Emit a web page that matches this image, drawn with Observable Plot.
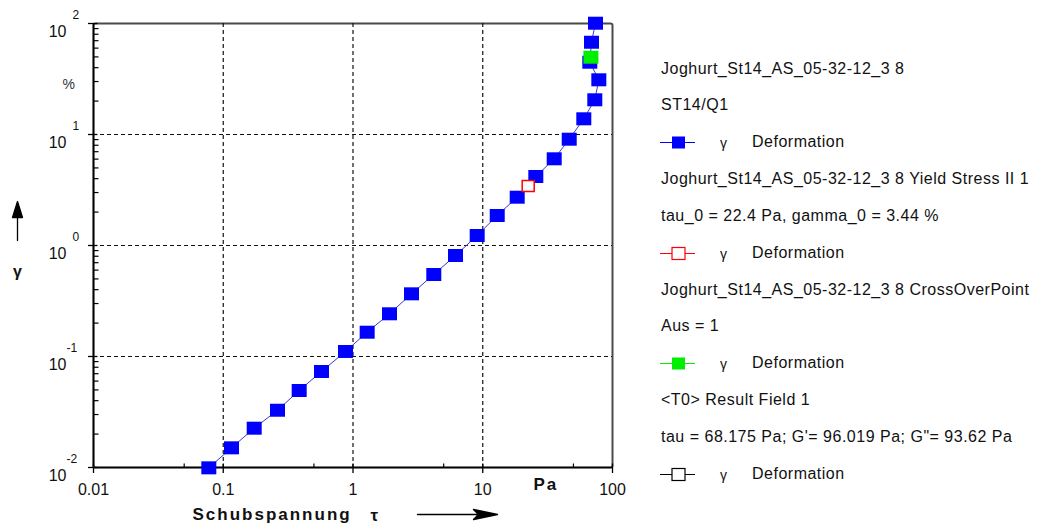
<!DOCTYPE html>
<html><head><meta charset="utf-8">
<script src="https://cdn.jsdelivr.net/npm/d3@7"></script>
<script src="https://cdn.jsdelivr.net/npm/@observablehq/plot@0.6"></script>
<style>
body{margin:0;background:#fff;}
#wrap{position:relative;width:1037px;height:529px;overflow:hidden;font-family:"Liberation Sans",Arial,sans-serif;color:#111;}
#wrap svg.plot{position:absolute;left:0;top:0;}
.lg{position:absolute;font-size:16px;letter-spacing:0.5px;white-space:nowrap;line-height:16px;height:16px;}
.lgsym{position:absolute;}
</style></head><body><div id="wrap"></div>
<script>
// ---- data ----
const tau   = [0.0774,0.1158,0.1732,0.262,0.3848,0.5716,0.8755,1.286,1.911,2.824,4.195,6.166,9.06,12.93,18.43,25.64,35.54,46.39,60.09,73.05,78.45,66.83,68.87,73.96];
const gamma = [0.00993,0.01504,0.0226,0.0328,0.0494,0.0733,0.111,0.1655,0.2425,0.367,0.548,0.813,1.23,1.864,2.723,4.184,6.04,9.07,13.85,20.54,31.1,44.8,67.8,100.6];
const yieldTau = [22.4];
const yieldGamma = [3.44];
const crossTau = [68.175];
const crossGamma = [49.7];

const xDomain = [0.01, 100];
const yDomain = [0.01, 100];
const xTicks = [0.01, 0.1, 1, 10, 100];
const xTickLabels = ["0.01", "0.1", "1", "10", "100"];
const xMinor = [0.05, 0.5, 5, 50];
const yTicks = [0.01, 0.1, 1, 10, 100];
const yExponents = ["-2", "-1", "0", "1", "2"];
const yMinorMultipliers = [2, 3, 4, 5, 6, 7, 8, 9];

const seriesNames = [
  "Joghurt_St14_AS_05-32-12_3 8",
  "Joghurt_St14_AS_05-32-12_3 8 Yield Stress II 1",
  "Joghurt_St14_AS_05-32-12_3 8 CrossOverPoint",
  "<T0> Result Field 1"
];
const seriesInfo = [
  "ST14/Q1",
  "tau_0 = 22.4 Pa, gamma_0 = 3.44 %",
  "Aus = 1",
  "tau = 68.175 Pa; G'= 96.019 Pa; G\"= 93.62 Pa"
];
const seriesColors = ["#0000ff", "#ff0000", "#00ee00", "#000000"];
const seriesFilled = [true, false, true, false];
const symbolLabel = "γ";
const quantityLabel = "Deformation";
const xTitle = "Schubspannung";
const xSymbol = "τ";
const xUnit = "Pa";
const yUnit = "%";
const ySymbol = "γ";

// ---- build ----
const pts = tau.map((t, i) => ({tau: t, gamma: gamma[i]}));
const yieldPts = yieldTau.map((t, i) => ({tau: t, gamma: yieldGamma[i]}));
const crossPts = crossTau.map((t, i) => ({tau: t, gamma: crossGamma[i]}));
const yMinor = yTicks.slice(0, -1).flatMap(d => yMinorMultipliers.map(k => k * d));
const yPos = yExponents.map((e, i) => ({v: yTicks[i], e})).filter(d => !d.e.startsWith("-"));
const yNeg = yExponents.map((e, i) => ({v: yTicks[i], e})).filter(d => d.e.startsWith("-"));

const rectSym = (w, h) => ({draw(ctx) { ctx.rect(-w / 2, -h / 2, w, h); }});
const upArrow = {draw(ctx, l) {
  ctx.moveTo(0, 0); ctx.lineTo(0, -l + 14);
  ctx.moveTo(0, -l); ctx.lineTo(5, -l + 16); ctx.lineTo(-5, -l + 16); ctx.closePath();
}};
const rightArrow = {draw(ctx, l) {
  ctx.moveTo(0, 0); ctx.lineTo(0, -l + 20);
  ctx.moveTo(0, -l); ctx.lineTo(5, -l + 24); ctx.lineTo(0, -l + 19); ctx.lineTo(-5, -l + 24); ctx.closePath();
}};

const font = '"Liberation Sans", Arial, sans-serif';
const plot = Plot.plot({
  width: 1037, height: 529,
  marginLeft: 93, marginRight: 425, marginTop: 23, marginBottom: 62,
  x: {type: "log", domain: xDomain, axis: null},
  y: {type: "log", domain: yDomain, axis: null},
  style: {fontFamily: font, background: "transparent", overflow: "visible", color: "#111"},
  marks: [
    Plot.frame({stroke: "#4a4a4a", strokeWidth: 2, rx: 2}),
    Plot.ruleX(xTicks.slice(1, -1), {stroke: "#111", strokeWidth: 1.2, strokeDasharray: "4,3"}),
    Plot.ruleY(yTicks.slice(1, -1), {stroke: "#111", strokeWidth: 1.2, strokeDasharray: "4,3"}),
    Plot.ruleX([xDomain[0]], {stroke: "#000", strokeWidth: 1.6}),
    Plot.ruleY([yDomain[0]], {stroke: "#000", strokeWidth: 1.6}),
    // x ticks
    Plot.ruleX(xTicks, {x: d => d, y1: () => yDomain[0], y2: () => yDomain[0], insetTop: -3.5, insetBottom: -6, stroke: "#000", strokeWidth: 1.3}),
    Plot.ruleX(xMinor, {x: d => d, y1: () => yDomain[0], y2: () => yDomain[0], insetTop: -3.5, insetBottom: 0, stroke: "#000", strokeWidth: 1.2}),
    // y ticks
    Plot.ruleY(yTicks, {y: d => d, x1: () => xDomain[0], x2: () => xDomain[0], insetLeft: -5, insetRight: -4.5, stroke: "#000", strokeWidth: 1.3}),
    Plot.ruleY(yMinor, {y: d => d, x1: () => xDomain[0], x2: () => xDomain[0], insetLeft: 0, insetRight: -5.5, stroke: "#000", strokeWidth: 1.2}),
    // tick labels
    Plot.text(xTicks, {x: d => d, y: () => yDomain[0], text: (d, i) => xTickLabels[i], dy: 22, fontSize: 16, fill: "#111"}),
    Plot.text(yTicks, {x: () => xDomain[0], y: d => d, text: () => "10", textAnchor: "end", dx: -27, dy: 8, fontSize: 16, fill: "#111"}),
    Plot.text(yPos, {x: () => xDomain[0], y: "v", text: "e", textAnchor: "start", dx: -21, dy: -8, fontSize: 12, fill: "#111"}),
    Plot.text(yNeg, {x: () => xDomain[0], y: "v", text: "e", textAnchor: "start", dx: -27, dy: -8, fontSize: 12, fill: "#111"}),
    // units & titles
    Plot.text([yUnit], {frameAnchor: "top-left", textAnchor: "start", dx: -31, dy: 56, fontSize: 14, fill: "#333"}),
    Plot.text([xUnit], {frameAnchor: "bottom-right", textAnchor: "start", dx: -79, dy: 22, fontSize: 17, fontWeight: "bold", fill: "#111"}),
    Plot.text([xTitle], {frameAnchor: "bottom-left", textAnchor: "start", dx: 99, dy: 52, fontSize: 17, fontWeight: "bold", fill: "#111"}),
    Plot.text([xSymbol], {frameAnchor: "bottom-left", textAnchor: "start", dx: 277, dy: 53, fontSize: 17, fontWeight: "bold", fill: "#111"}),
    Plot.vector([xTitle], {frameAnchor: "bottom-left", dx: 324, dy: 47, rotate: 90, length: 80, anchor: "start", shape: rightArrow, fill: "#000", stroke: "#000", strokeWidth: 1.3}),
    Plot.vector([ySymbol], {frameAnchor: "left", dx: -76, dy: -5, rotate: 0, length: 39, anchor: "start", shape: upArrow, fill: "#000", stroke: "#000", strokeWidth: 1.3}),
    Plot.text([ySymbol], {frameAnchor: "left", textAnchor: "middle", dx: -76, dy: 26, fontSize: 16, fontWeight: "bold", fill: "#111"}),
    // data
    Plot.line(pts, {x: "tau", y: "gamma", stroke: "#3a3acc", strokeWidth: 1}),
    Plot.dot(pts, {x: "tau", y: "gamma", symbol: rectSym(15, 13), fill: "#0000ff", stroke: "none"}),
    Plot.dot(yieldPts, {x: "tau", y: "gamma", symbol: rectSym(12, 11), fill: "#fff", stroke: "#ff0000", strokeWidth: 1.5}),
    Plot.dot(crossPts, {x: "tau", y: "gamma", symbol: rectSym(15, 13), fill: "#00ee00", stroke: "none"})
  ]
});
plot.classList.add("plot");
// spaced-out bold axis titles, as in the reference
d3.select(plot).selectAll("text")
  .filter(function() { return this.textContent === xTitle || this.textContent === xUnit; })
  .attr("letter-spacing", "2px");
const wrap = document.getElementById("wrap");
wrap.appendChild(plot);

// ---- legend (right side) ----
const rowY0 = 68.5, rowStep = 36.85;
let row = 0;
seriesNames.forEach((name, i) => {
  [name, seriesInfo[i]].forEach(t => {
    const d = document.createElement("div");
    d.className = "lg";
    d.textContent = t;
    d.style.left = "661px";
    d.style.top = (rowY0 + row * rowStep - 8) + "px";
    wrap.appendChild(d);
    row++;
  });
  const cy = rowY0 + row * rowStep;
  const s = d3.create("svg").attr("class", "lgsym").attr("width", 40).attr("height", 16)
    .style("left", "658px").style("top", (cy - 8) + "px");
  s.append("line").attr("x1", 2).attr("x2", 37).attr("y1", 8.5).attr("y2", 8.5)
    .attr("stroke", seriesColors[i]).attr("stroke-width", 1.2);
  s.append("rect").attr("x", 14).attr("y", 2.5).attr("width", 13).attr("height", 12)
    .attr("fill", seriesFilled[i] ? seriesColors[i] : "#fff")
    .attr("stroke", seriesColors[i]).attr("stroke-width", seriesFilled[i] ? 0 : 1.2);
  wrap.appendChild(s.node());
  const g = document.createElement("div");
  g.className = "lg"; g.textContent = symbolLabel;
  g.style.left = "720px"; g.style.top = (cy - 7) + "px"; g.style.fontSize = "14px";
  wrap.appendChild(g);
  const q = document.createElement("div");
  q.className = "lg"; q.textContent = quantityLabel;
  q.style.left = "752px"; q.style.top = (cy - 8) + "px";
  wrap.appendChild(q);
  row++;
});
</script></body></html>
